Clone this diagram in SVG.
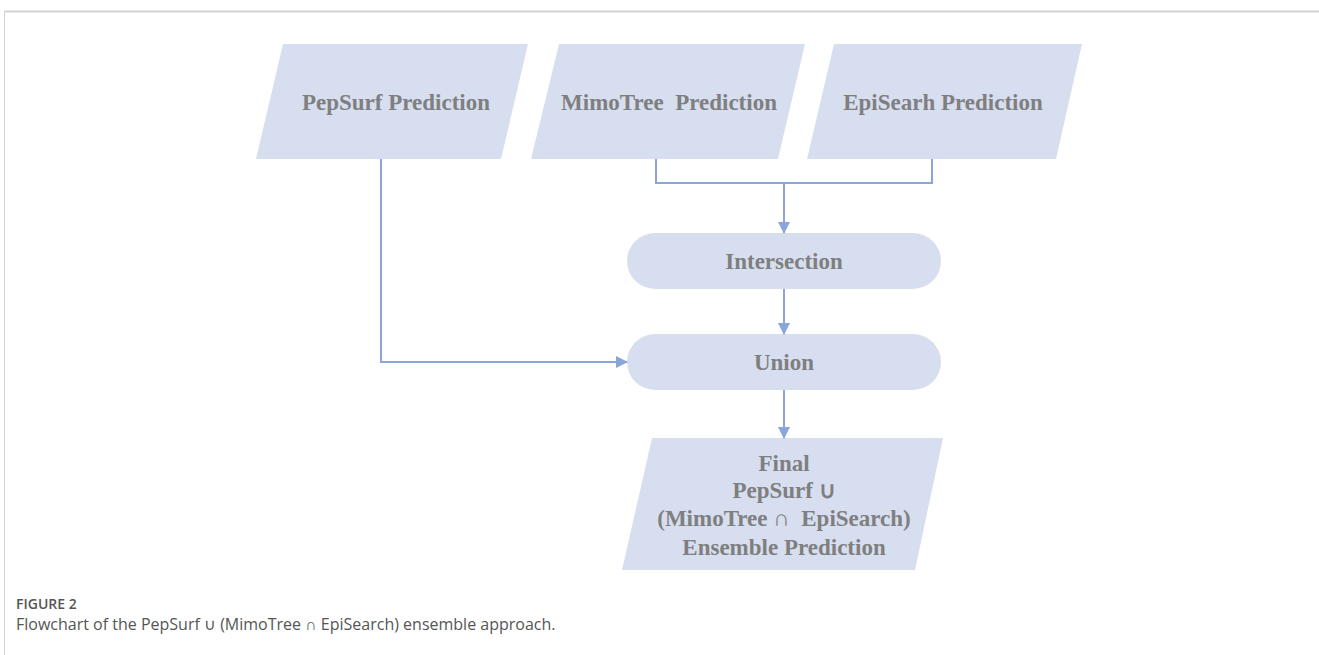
<svg xmlns="http://www.w3.org/2000/svg" width="1319" height="655" viewBox="0 0 1319 655">
<style>
.shape{fill:#d7def0;}
.lbl{font-family:"Liberation Serif",serif;font-weight:bold;font-size:23px;fill:#7f7f7f;text-anchor:middle;}
.con{fill:none;stroke:#8ba5db;stroke-width:2;}
.cap1{font-family:"Open Sans",sans-serif;font-size:14px;font-weight:600;fill:#555;}
.cap2{font-family:"Open Sans",sans-serif;font-size:16px;fill:#555;}
</style>
<defs>
<marker id="arr" markerWidth="12" markerHeight="12" refX="11" refY="6" orient="auto" markerUnits="userSpaceOnUse">
<path d="M0,0 L12,6 L0,12 Z" fill="#8ba5db"/>
</marker>
</defs>
<rect x="0" y="0" width="1319" height="655" fill="#fff"/>
<line x1="4" y1="11.5" x2="1319" y2="11.5" stroke="#d4d4d4" stroke-width="2"/>
<line x1="4.5" y1="11" x2="4.5" y2="655" stroke="#d4d4d4" stroke-width="1"/>
<g id="pepsurf">
<polygon class="shape" points="283,44 528,44 501,159 256,159"/>
<text class="lbl" x="396" y="110">PepSurf Prediction</text>
</g>
<g id="mimotree">
<polygon class="shape" points="559,44 805,44 778,159 531,159"/>
<text class="lbl" x="669" y="110" xml:space="preserve">MimoTree  Prediction</text>
</g>
<g id="episearh">
<polygon class="shape" points="834,44 1082,44 1056,159 807,159"/>
<text class="lbl" x="943" y="110">EpiSearh Prediction</text>
</g>
<g id="intersection">
<rect class="shape" x="627" y="233" width="314" height="56" rx="28"/>
<text class="lbl" x="784" y="269">Intersection</text>
</g>
<g id="union">
<rect class="shape" x="627" y="334" width="314" height="56" rx="28"/>
<text class="lbl" x="784" y="370">Union</text>
</g>
<g id="final">
<polygon class="shape" points="652,438 943,438 915,570 622,570"/>
<text class="lbl" x="784" y="471">Final</text>
<text class="lbl" x="784" y="498">PepSurf ∪</text>
<text class="lbl" x="784" y="526" xml:space="preserve">(MimoTree ∩  EpiSearch)</text>
<text class="lbl" x="784" y="555">Ensemble Prediction</text>
</g>
<g id="connectors">
<polyline class="con" points="656,159 656,183 932,183 932,159"/>
<line class="con" x1="784" y1="183" x2="784" y2="233" marker-end="url(#arr)"/>
<line class="con" x1="784" y1="289" x2="784" y2="334" marker-end="url(#arr)"/>
<polyline class="con" points="381,159 381,362 627,362" marker-end="url(#arr)"/>
<line class="con" x1="784" y1="390" x2="784" y2="438" marker-end="url(#arr)"/>
</g>
<text class="cap1" x="16" y="609">FIGURE 2</text>
<text class="cap2" x="16" y="630">Flowchart of the PepSurf ∪ (MimoTree ∩ EpiSearch) ensemble approach.</text>
</svg>
